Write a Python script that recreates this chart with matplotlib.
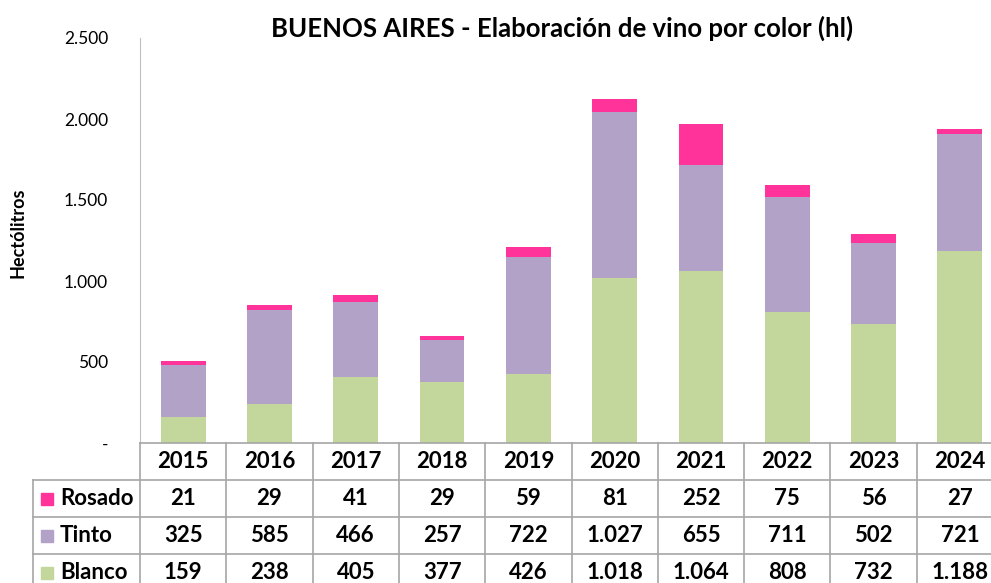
import matplotlib
matplotlib.use('Agg')
import matplotlib.pyplot as plt
import numpy as np

years = ['2015', '2016', '2017', '2018', '2019', '2020', '2021', '2022', '2023', '2024']
blanco = [159, 238, 405, 377, 426, 1018, 1064, 808, 732, 1188]
tinto = [325, 585, 466, 257, 722, 1027, 655, 711, 502, 721]
rosado = [21, 29, 41, 29, 59, 81, 252, 75, 56, 27]

series = [('Rosado', rosado, '#FF3399'),
          ('Tinto', tinto, '#B3A2C7'),
          ('Blanco', blanco, '#C3D69B')]

plt.rcParams['font.family'] = ['Lato', 'DejaVu Sans']
W, H = 991, 583
fig = plt.figure(figsize=(W / 100, H / 100), dpi=100)

def px_axes(left, top, right, bottom):
    return fig.add_axes([left / W, 1 - bottom / H, (right - left) / W, (bottom - top) / H])

col_w = 86.3
x0 = 140
x_right = x0 + 10 * col_w
ax = px_axes(x0, 38, x_right, 443)

x = np.arange(len(years))
bottom = np.zeros(len(years))
for name, vals, color in series[::-1]:
    ax.bar(x, vals, 0.52, bottom=bottom, color=color, label=name)
    bottom += np.array(vals)

ax.set_xlim(-0.5, 9.5)
ax.set_ylim(0, 2500)
ax.set_yticks([0, 500, 1000, 1500, 2000, 2500])
ax.set_yticklabels(['-', '500', '1.000', '1.500', '2.000', '2.500'], fontsize=12.5)
ax.tick_params(axis='y', length=0, pad=23)
ax.set_xticks([])
for s in ['top', 'right', 'bottom']:
    ax.spines[s].set_visible(False)
ax.spines['left'].set_color('#BFBFBF')
ax.set_ylabel('Hectólitros', fontsize=13, fontweight='bold')
ax.yaxis.set_label_coords((26 - x0) / (x_right - x0), 0.52)
fig.text(562 / W, 1 - 28 / H, 'BUENOS AIRES - Elaboración de vino por color (hl)',
         fontsize=18.5, fontweight='bold', ha='center', va='center')

# data table under the chart
lab_w = (x0 - 33) / col_w
tx = px_axes(33, 443, x_right, 443 + 4 * 37)
tx.set_xlim(-0.5 - lab_w, 9.5)
tx.set_ylim(4, 0)
tx.axis('off')
lc = '#A6A6A6'
tx.plot([-0.5, 9.5], [0, 0], color=lc, lw=1.2, clip_on=False)
for r in range(1, 5):
    tx.plot([-0.5 - lab_w, 9.5], [r, r], color=lc, lw=1.2, clip_on=False)
for k in range(11):
    tx.plot([k - 0.5, k - 0.5], [0, 4], color=lc, lw=1.2, clip_on=False)
tx.plot([-0.5 - lab_w, -0.5 - lab_w], [1, 4], color=lc, lw=1.2, clip_on=False)

def fmt(v):
    return '{:,}'.format(v).replace(',', '.')

for i, yr in enumerate(years):
    tx.text(i, 0.5, yr, ha='center', va='center', fontsize=16, fontweight='bold')
for r, (name, vals, color) in enumerate(series, start=1):
    tx.plot(-0.5 - lab_w + 14 / col_w, r + 0.5, 's', color=color, markersize=9, clip_on=False)
    tx.text(-0.5 - lab_w + 27 / col_w, r + 0.5, name, ha='left', va='center',
            fontsize=16, fontweight='bold')
    for i, v in enumerate(vals):
        tx.text(i, r + 0.5, fmt(v), ha='center', va='center', fontsize=16, fontweight='bold')

fig.savefig('out.png', dpi=100)
